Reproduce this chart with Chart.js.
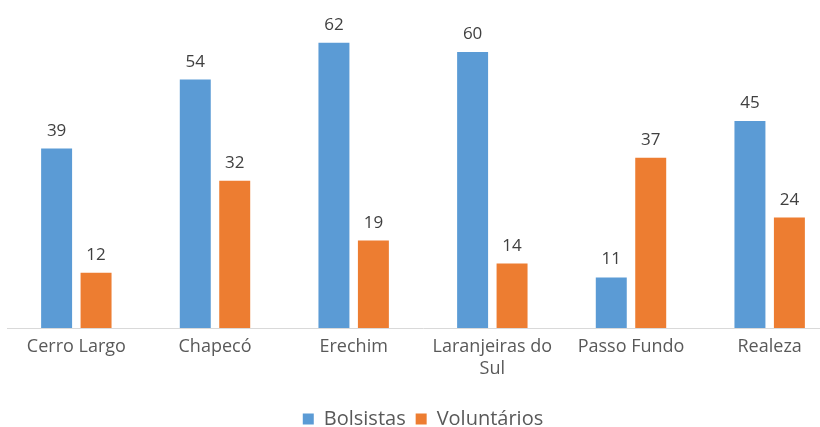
<!DOCTYPE html>
<html>
<head>
<meta charset="utf-8">
<script src="https://cdn.jsdelivr.net/npm/chart.js@4"></script>
<style>
html,body{margin:0;padding:0;background:#fff;overflow:hidden;}
#wrap{position:absolute;left:0;top:0;width:840px;height:427px;}
</style>
</head>
<body>
<div id="wrap"><canvas id="c"></canvas></div>
<script>
const categories = ["Cerro Largo", "Chapecó", "Erechim", ["Laranjeiras do", "Sul"], "Passo Fundo", "Realeza"];
const bolsistas = [39, 54, 62, 60, 11, 45];
const voluntarios = [12, 32, 19, 14, 37, 24];
const seriesNames = ["Bolsistas", "Voluntários"];

const FONT = "'Open Sans', sans-serif";

const labelPlugin = {
  id: 'valueLabels',
  afterDatasetsDraw(chart) {
    const ctx = chart.ctx;
    ctx.save();
    ctx.font = "17px " + FONT;
    ctx.fillStyle = "#404040";
    ctx.textAlign = "center";
    ctx.textBaseline = "alphabetic";
    chart.data.datasets.forEach((ds, i) => {
      const meta = chart.getDatasetMeta(i);
      meta.data.forEach((el, j) => {
        ctx.fillText(String(ds.data[j]), el.x, el.y - 13);
      });
    });
    ctx.restore();
  }
};

new Chart(document.getElementById('c'), {
  type: 'bar',
  data: {
    labels: categories,
    datasets: [
      { label: seriesNames[0], data: bolsistas, backgroundColor: '#5B9BD5' },
      { label: seriesNames[1], data: voluntarios, backgroundColor: '#ED7D31' }
    ]
  },
  options: {
    responsive: true,
    maintainAspectRatio: false,
    animation: false,
    categoryPercentage: 0.569,
    barPercentage: 0.785,
    layout: { padding: { left: 7, right: 1, top: 6, bottom: -12 } },
    scales: {
      x: {
        grid: { display: false, drawTicks: false },
        border: { display: true, color: '#D9D9D9', width: 1 },
        ticks: { color: '#595959', font: { family: FONT, size: 18, lineHeight: 1.2 }, padding: 8, maxRotation: 0, autoSkip: false },
        afterFit(scale) { scale.height = 71; }
      },
      y: { display: false, min: 0, max: 70 }
    },
    plugins: {
      legend: {
        position: 'bottom',
        labels: { color: '#595959', font: { family: FONT, size: 20 }, boxWidth: 11, boxHeight: 11, padding: 10 }
      },
      tooltip: { enabled: false }
    }
  },
  plugins: [labelPlugin]
});
</script>
</body>
</html>
